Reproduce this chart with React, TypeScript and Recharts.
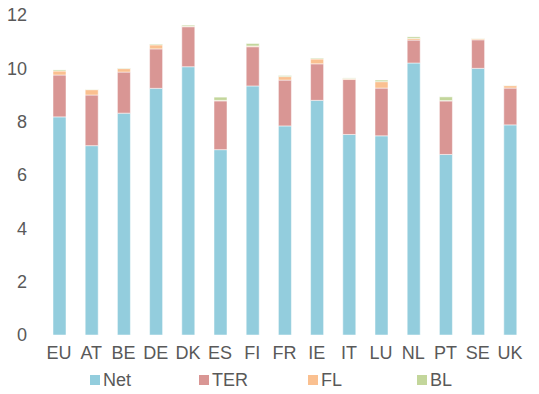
import React from "react";
import { BarChart, Bar, XAxis, YAxis, Legend } from "recharts";

// values, stacked bottom to top
const countries = ["EU", "AT", "BE", "DE", "DK", "ES", "FI", "FR", "IE", "IT", "LU", "NL", "PT", "SE", "UK"];
const netValues = [8.18, 7.1, 8.32, 9.25, 10.06, 6.95, 9.34, 7.84, 8.8, 7.52, 7.47, 10.2, 6.77, 10.0, 7.88];
const terValues = [1.57, 1.9, 1.54, 1.48, 1.5, 1.83, 1.47, 1.72, 1.37, 2.06, 1.79, 0.86, 2.01, 1.07, 1.38];
const flValues = [0.15, 0.2, 0.13, 0.15, 0.02, 0.02, 0.03, 0.13, 0.18, 0.04, 0.24, 0.06, 0.01, 0.04, 0.09];
const blValues = [0.04, 0.01, 0.02, 0.03, 0.04, 0.12, 0.09, 0.04, 0.03, 0.02, 0.06, 0.06, 0.14, 0.01, 0.01];
const yTicks = [0, 2, 4, 6, 8, 10, 12];

const SERIES = [
  { key: "Net", color: "#93CDDD" },
  { key: "TER", color: "#D99694" },
  { key: "FL", color: "#FAC090" },
  { key: "BL", color: "#C3D69B" },
];

const FONT = "'Liberation Sans', Arial, sans-serif";
const TEXT = "#595959";

const data = countries.map((name, i) => ({
  name,
  Net: netValues[i],
  TER: terValues[i],
  FL: flValues[i],
  BL: blValues[i],
}));

// ==================== LEGEND ====================

const LegendRow = () => (
  <div style={{ display: "flex", height: 22, alignItems: "center", paddingLeft: 90 }}>
    {SERIES.map((s) => (
      <div key={s.key} style={{ width: 115, display: "flex", alignItems: "center" }}>
        <div style={{ width: 10, height: 10, backgroundColor: s.color, marginRight: 3 }} />
        <span style={{ fontFamily: FONT, fontSize: 18, color: TEXT }}>{s.key}</span>
      </div>
    ))}
  </div>
);

export default function App() {
  return (
    <div style={{ position: "absolute", left: 0, top: 0, background: "#fff" }}>
      <BarChart
        width={539}
        height={394}
        data={data}
        barSize={13}
        margin={{ top: 15, right: 13, bottom: 3, left: 0 }}
      >
        <XAxis
          dataKey="name"
          axisLine={false}
          tickLine={false}
          height={34}
          tickMargin={5}
          interval={0}
          tick={{ fill: TEXT, fontSize: 18, fontFamily: FONT }}
        />
        <YAxis
          width={43}
          domain={[0, 12]}
          ticks={yTicks}
          axisLine={false}
          tickLine={false}
          tickMargin={10}
          tick={{ fill: TEXT, fontSize: 18, fontFamily: FONT }}
        />
        <Legend verticalAlign="bottom" content={() => <LegendRow />} />
        {SERIES.map((s) => (
          <Bar
            key={s.key}
            dataKey={s.key}
            stackId="a"
            fill={s.color}
            stroke="#ffffff"
            strokeWidth={0.5}
            isAnimationActive={false}
          />
        ))}
      </BarChart>
    </div>
  );
}
